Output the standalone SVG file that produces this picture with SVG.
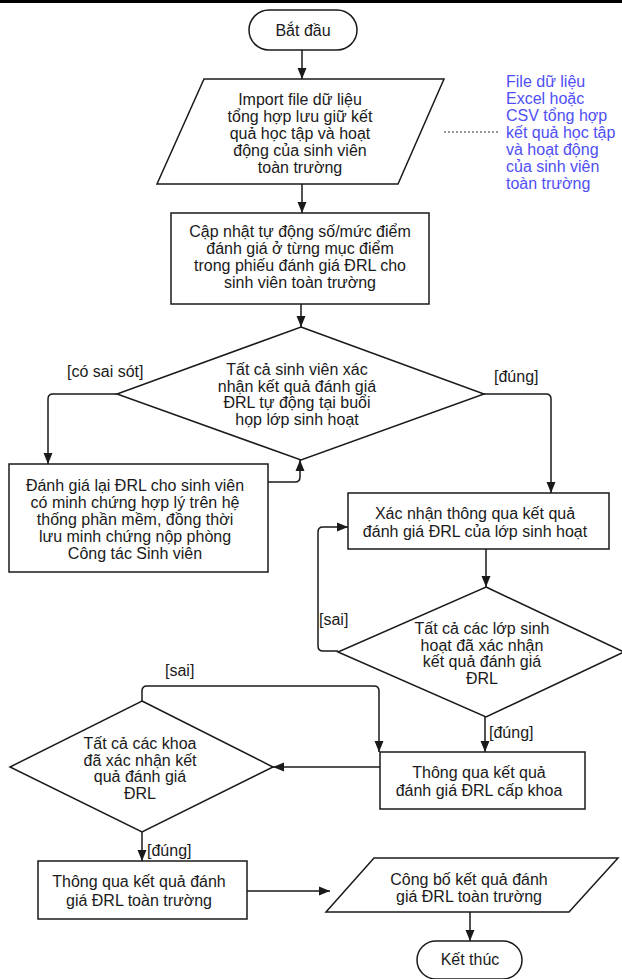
<svg xmlns="http://www.w3.org/2000/svg" width="622" height="979" viewBox="0 0 622 979">
<style>
.s{fill:#fff;stroke:#1a1a1a;stroke-width:1.5}
.c{fill:none;stroke:#1a1a1a;stroke-width:1.5}
text{font-family:"Liberation Sans",Arial,sans-serif;font-size:16px;fill:#1a1a1a}
.m{text-anchor:middle}
.b{fill:#4f4ff5}
</style>
<defs>
<marker id="a" markerUnits="userSpaceOnUse" markerWidth="12" markerHeight="12" viewBox="0 0 12 12" refX="11" refY="6" orient="auto">
<path d="M0,1.5 L11,6 L0,10.5 Z" fill="#1a1a1a"/>
</marker>
</defs>
<rect x="0" y="0" width="622" height="3" fill="#000"/>

<g id="connectors">
<path class="c" d="M302,50 V79" marker-end="url(#a)"/>
<path class="c" d="M302,184 V213" marker-end="url(#a)"/>
<path class="c" d="M301,304 V327" marker-end="url(#a)"/>
<path class="c" d="M117,394 H53 Q48,394 48,399 V464" marker-end="url(#a)"/>
<path class="c" d="M268,482 H295 Q300,482 300,477 V460" marker-end="url(#a)"/>
<path class="c" d="M484,394 H546 Q551,394 551,399 V493" marker-end="url(#a)"/>
<path class="c" d="M486,549 V587" marker-end="url(#a)"/>
<path class="c" d="M338,651 H323 Q318,651 318,646 V532 Q318,527 323,527 H348" marker-end="url(#a)"/>
<path class="c" d="M485,717 V752" marker-end="url(#a)"/>
<path class="c" d="M380,767 H273" marker-end="url(#a)"/>
<path class="c" d="M142,701 V691 Q142,686 147,686 H374 Q379,686 379,691 V752" marker-end="url(#a)"/>
<path class="c" d="M142,832 V861" marker-end="url(#a)"/>
<path class="c" d="M247,891 H330" marker-end="url(#a)"/>
<path class="c" d="M470,912 V941" marker-end="url(#a)"/>
<path d="M444,132 H498" fill="none" stroke="#333" stroke-width="1.2" stroke-dasharray="2,2"/>
<text x="67" y="377">[có sai sót]</text>
<text x="494" y="382">[đúng]</text>
<text x="319" y="625">[sai]</text>
<text x="489" y="738">[đúng]</text>
<text x="165" y="676">[sai]</text>
<text x="147" y="856">[đúng]</text>
</g>

<g id="start">
<rect class="s" x="249" y="10" width="108" height="40" rx="20"/>
<text class="m" x="303" y="36">Bắt đầu</text>
</g>

<g id="import">
<polygon class="s" points="204,79 444,79 398,184 157,184"/>
<text class="m" x="300" y="105">Import file dữ liệu</text>
<text class="m" x="300" y="122">tổng hợp lưu giữ kết</text>
<text class="m" x="300" y="139">quả học tập và hoạt</text>
<text class="m" x="300" y="156">động của sinh viên</text>
<text class="m" x="300" y="173">toàn trường</text>
</g>

<g id="note">
<text class="b" x="506" y="87">File dữ liệu</text>
<text class="b" x="506" y="104">Excel hoặc</text>
<text class="b" x="506" y="121">CSV tổng hợp</text>
<text class="b" x="506" y="138">kết quả học tập</text>
<text class="b" x="506" y="155">và hoạt động</text>
<text class="b" x="506" y="172">của sinh viên</text>
<text class="b" x="506" y="189">toàn trường</text>
</g>

<g id="update">
<rect class="s" x="171" y="213" width="258" height="91"/>
<text class="m" x="300" y="237">Cập nhật tự động số/mức điểm</text>
<text class="m" x="300" y="254">đánh giá ở từng mục điểm</text>
<text class="m" x="300" y="271">trong phiếu đánh giá ĐRL cho</text>
<text class="m" x="300" y="288">sinh viên toàn trường</text>
</g>

<g id="decision1">
<polygon class="s" points="301,327 484,394 301,460 117,394"/>
<text class="m" x="297" y="375">Tất cả sinh viên xác</text>
<text class="m" x="297" y="392">nhận kết quả đánh giá</text>
<text class="m" x="297" y="408">ĐRL tự động tại buổi</text>
<text class="m" x="297" y="425">họp lớp sinh hoạt</text>
</g>

<g id="reassess">
<rect class="s" x="9" y="464" width="259" height="108"/>
<text class="m" x="135" y="491">Đánh giá lại ĐRL cho sinh viên</text>
<text class="m" x="135" y="508">có minh chứng hợp lý trên hệ</text>
<text class="m" x="135" y="525">thống phần mềm, đồng thời</text>
<text class="m" x="135" y="542">lưu minh chứng nộp phòng</text>
<text class="m" x="135" y="559">Công tác Sinh viên</text>
</g>

<g id="confirmClass">
<rect class="s" x="348" y="493" width="261" height="56"/>
<text class="m" x="475" y="519">Xác nhận thông qua kết quả</text>
<text class="m" x="475" y="537">đánh giá ĐRL của lớp sinh hoạt</text>
</g>

<g id="decision2">
<polygon class="s" points="486,587 624,652 486,717 338,652"/>
<text class="m" x="482" y="634">Tất cả các lớp sinh</text>
<text class="m" x="482" y="651">hoạt đã xác nhận</text>
<text class="m" x="482" y="667">kết quả đánh giá</text>
<text class="m" x="482" y="684">ĐRL</text>
</g>

<g id="faculty">
<rect class="s" x="380" y="752" width="205" height="57"/>
<text class="m" x="479" y="778">Thông qua kết quả</text>
<text class="m" x="479" y="796">đánh giá ĐRL cấp khoa</text>
</g>

<g id="decision3">
<polygon class="s" points="142,701 273,767 142,832 10,767"/>
<text class="m" x="140" y="749">Tất cả các khoa</text>
<text class="m" x="140" y="766">đã xác nhận kết</text>
<text class="m" x="140" y="782">quả đánh giá</text>
<text class="m" x="140" y="799">ĐRL</text>
</g>

<g id="school">
<rect class="s" x="38" y="861" width="209" height="58"/>
<text class="m" x="139" y="887">Thông qua kết quả đánh</text>
<text class="m" x="139" y="906">giá ĐRL toàn trường</text>
</g>

<g id="publish">
<polygon class="s" points="374,858 618,858 569,912 326,912"/>
<text class="m" x="469" y="885">Công bố kết quả đánh</text>
<text class="m" x="469" y="902">giá ĐRL toàn trường</text>
</g>

<g id="end">
<rect class="s" x="417" y="941" width="105" height="38" rx="19"/>
<text class="m" x="470" y="965">Kết thúc</text>
</g>
</svg>
